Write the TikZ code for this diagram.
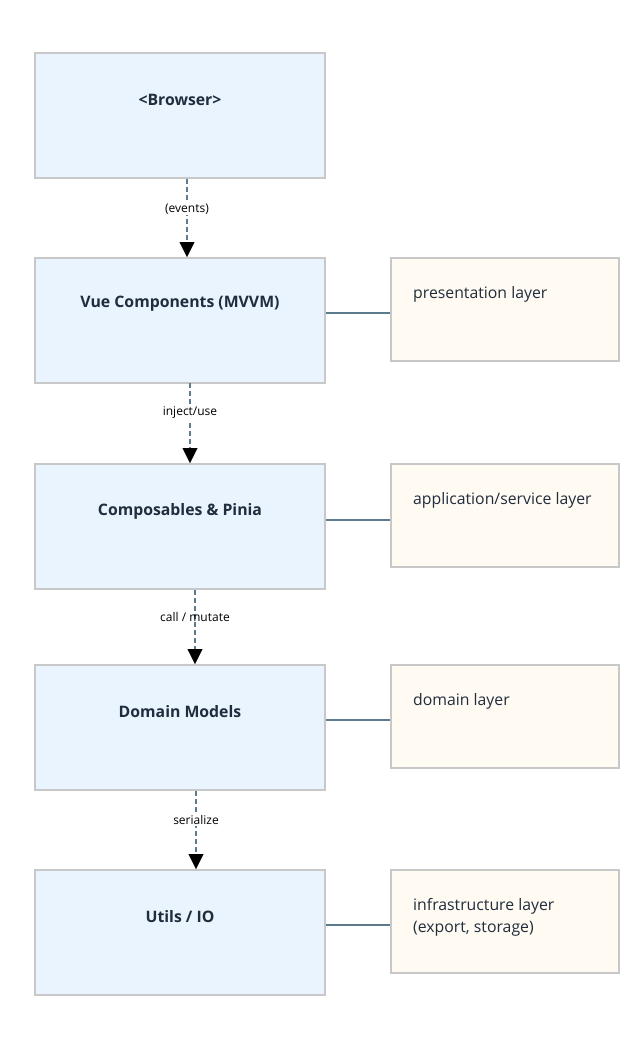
\documentclass[tikz,border=0pt]{standalone}
\usepackage{fontspec}
\setmainfont{Open Sans}
\usetikzlibrary{arrows.meta}
\definecolor{lfill}{HTML}{EAF4FE}
\definecolor{rfill}{HTML}{FFFAF2}
\definecolor{bord}{HTML}{C8C8C8}
\definecolor{conn}{HTML}{5E7A8E}
\definecolor{txt}{HTML}{1F2D3D}
\tikzset{
  lbox/.style={draw=bord, line width=2pt, fill=lfill, minimum width=290pt, minimum height=125pt, inner sep=0pt},
  rbox/.style={draw=bord, line width=2pt, fill=rfill, minimum width=228pt, minimum height=103pt, inner sep=0pt},
  ltitle/.style={font=\fontsize{15.8}{18}\selectfont\bfseries, text=txt},
  rtext/.style={font=\fontsize{15.8}{22}\selectfont, text=txt, align=left, anchor=base west, inner sep=0pt},
  flow/.style={draw=conn, line width=2pt, dash pattern=on 5pt off 3pt},
  tip/.style={-{Triangle[length=15pt,width=15pt]}, black},
  elabel/.style={font=\fontsize{12}{14}\selectfont, fill=white, inner sep=1pt, text=black},
  link/.style={draw=conn, line width=2pt},
}
\begin{document}
\begin{tikzpicture}[x=1pt,y=-1pt]
\useasboundingbox[fill=white] (0,0) rectangle (643,1039);
% left boxes
\node[lbox] (b) at (180,115.5) {};
\node[lbox] (v) at (180,320) {};
\node[lbox] (c) at (180,526.5) {};
\node[lbox] (d) at (180,727.5) {};
\node[lbox] (u) at (180,932.5) {};
\node[ltitle] (bt) at (180,100) {<Browser>};
\node[ltitle] (vt) at (180,304) {Vue Components (MVVM)};
\node[ltitle] (ct) at (180,511) {Composables \& Pinia};
\node[ltitle] (dt) at (180,712) {Domain Models};
\node[ltitle] (ut) at (180,917) {Utils / IO};
% right boxes
\node[rbox] (p) at (505,309.5) {};
\node[rbox] (a) at (505,515.5) {};
\node[rbox] (m) at (505,716.5) {};
\node[rbox] (i) at (505,921.5) {};
\node[rtext] (pt) at (413,298) {presentation layer};
\node[rtext] (at) at (413,504) {application/service layer};
\node[rtext] (mt) at (413,705) {domain layer};
\node[rtext] (it) at (413,932) {infrastructure layer\\(export, storage)};
% horizontal links
\draw[link] (v.east |- 0,313) -- (p.west |- 0,313);
\draw[link] (c.east |- 0,520) -- (a.west |- 0,520);
\draw[link] (d.east |- 0,720) -- (m.west |- 0,720);
\draw[link] (u.east |- 0,925) -- (i.west |- 0,925);
% flows
\coordinate (b1) at (187,179);
\coordinate (b2) at (187,257);
\coordinate (v1) at (190,383);
\coordinate (v2) at (190,463);
\coordinate (c1) at (195,590);
\coordinate (c2) at (195,664);
\coordinate (d1) at (196,791);
\coordinate (d2) at (196,869);
\draw[flow] (b1) -- ([yshift=15pt]b2);
\draw[tip] ([yshift=15pt]b2) -- (b2);
\draw[flow] (v1) -- ([yshift=15pt]v2);
\draw[tip] ([yshift=15pt]v2) -- (v2);
\draw[flow] (c1) -- ([yshift=15pt]c2);
\draw[tip] ([yshift=15pt]c2) -- (c2);
\draw[flow] (d1) -- ([yshift=15pt]d2);
\draw[tip] ([yshift=15pt]d2) -- (d2);
\node[elabel] (l1) at (187,209) {(events)};
\node[elabel] (l2) at (190,413) {inject/use};
\node[elabel, fill=none] (l3) at (195,617) {call / mutate};
\node[elabel] (l4) at (196,820) {serialize};
\end{tikzpicture}
\end{document}
